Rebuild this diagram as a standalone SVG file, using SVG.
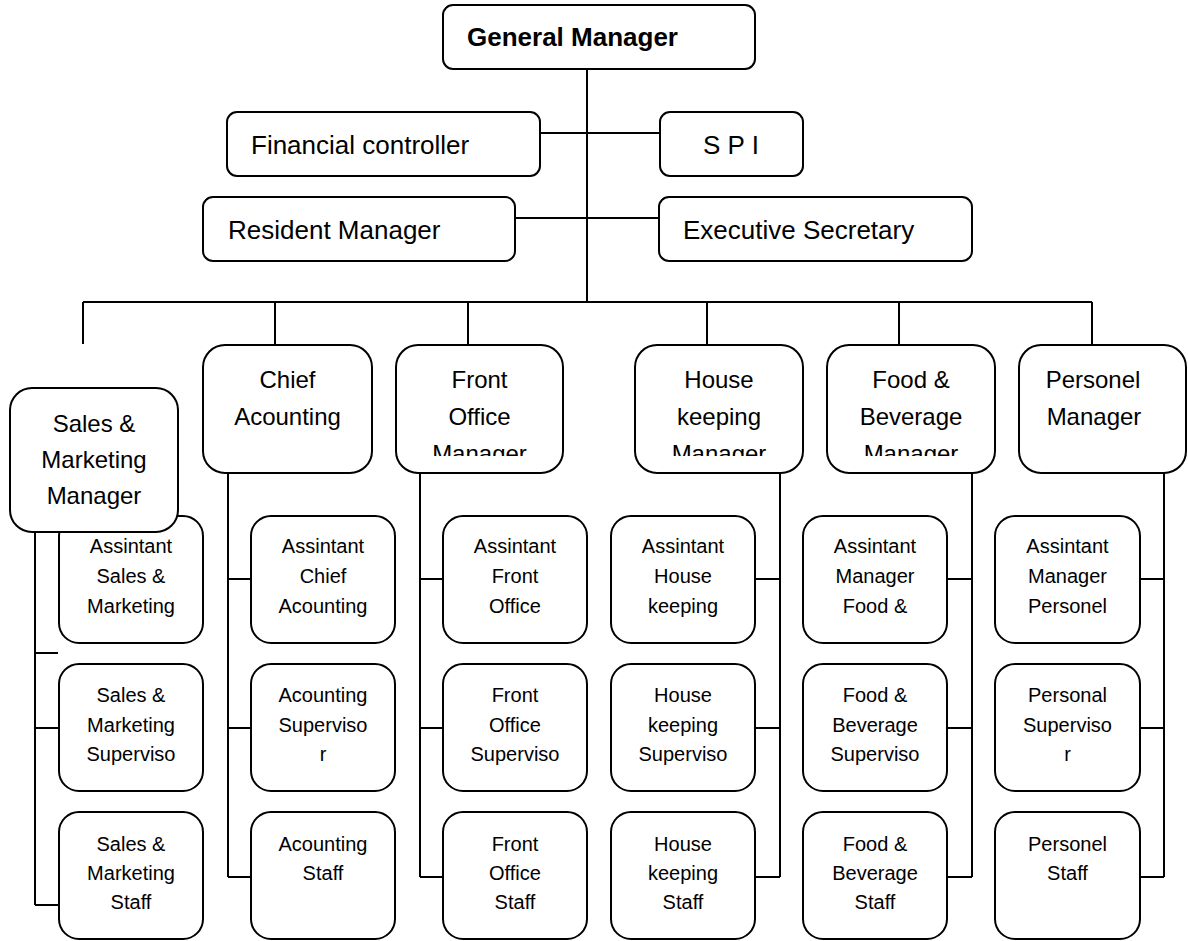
<svg xmlns="http://www.w3.org/2000/svg" width="1188" height="941" viewBox="0 0 1188 941">
<style>
.box{fill:#fff;stroke:#000;stroke-width:2}
.ln{stroke:#000;stroke-width:2;fill:none}
text{font-family:"Liberation Sans",Arial,sans-serif;fill:#000}
.top{font-size:26px}
.gm{font-size:26px;font-weight:bold}
.mgr{font-size:24px;text-anchor:middle}
.sm{font-size:20px;text-anchor:middle}
</style>
<defs>
<clipPath id="clipMgr" clipPathUnits="userSpaceOnUse"><rect x="0" y="340" width="1188" height="116"/></clipPath>
</defs>
<rect width="1188" height="941" fill="#fff"/>
<g id="connectors" class="ln">
<path d="M587,69V302"/>
<path d="M540,133H660"/>
<path d="M515,218H659"/>
<path d="M83,302H1092"/>
<path d="M83,302V344M275,302V345M468,302V345M707,302V345M899,302V345M1092,302V345"/>
<path d="M35,532V905M35,653H58M35,728H59M35,905H59"/>
<path d="M228,473V877M228,579H251M228,728H251M228,877H251"/>
<path d="M420,473V877M420,579H443M420,728H443M420,877H443"/>
<path d="M780,473V877M755,579H780M755,728H780M755,877H780"/>
<path d="M972,473V877M947,579H972M947,728H972M947,877H972"/>
<path d="M1164,473V877M1140,579H1164M1140,728H1164M1140,877H1164"/>
</g>
<g id="gm"><rect class="box" x="443" y="5" width="312" height="64" rx="10"/><text class="gm" x="467" y="46">General Manager</text></g>
<g id="fc"><rect class="box" x="227" y="112" width="313" height="64" rx="10"/><text class="top" x="251" y="154">Financial controller</text></g>
<g id="spi"><rect class="box" x="660" y="112" width="143" height="64" rx="10"/><text class="top" x="731" y="154" text-anchor="middle">S P I</text></g>
<g id="rm"><rect class="box" x="203" y="197" width="312" height="64" rx="10"/><text class="top" x="228" y="239">Resident Manager</text></g>
<g id="es"><rect class="box" x="659" y="197" width="313" height="64" rx="10"/><text class="top" x="683" y="239">Executive Secretary</text></g>

<g id="sm-asst"><rect class="box" x="59" y="516" width="144" height="127" rx="20"/><text class="sm" x="131" y="553">Assintant</text><text class="sm" x="131" y="583">Sales &amp;</text><text class="sm" x="131" y="613">Marketing</text></g>
<g id="sm-mgr"><rect class="box" x="10" y="388" width="168" height="144" rx="22"/><text class="mgr" x="94" y="432">Sales &amp;</text><text class="mgr" x="94" y="468">Marketing</text><text class="mgr" x="94" y="504">Manager</text></g>
<g id="sm-sup"><rect class="box" x="59" y="664" width="144" height="127" rx="20"/><text class="sm" x="131" y="702">Sales &amp;</text><text class="sm" x="131" y="732">Marketing</text><text class="sm" x="131" y="761">Superviso</text></g>
<g id="sm-staff"><rect class="box" x="59" y="812" width="144" height="127" rx="20"/><text class="sm" x="131" y="851">Sales &amp;</text><text class="sm" x="131" y="880">Marketing</text><text class="sm" x="131" y="909">Staff</text></g>

<g id="ca-mgr"><rect class="box" x="203" y="345" width="169" height="128" rx="22"/><text class="mgr" x="287.5" y="388">Chief</text><text class="mgr" x="287.5" y="425">Acounting</text></g>
<g id="ca-asst"><rect class="box" x="251" y="516" width="144" height="127" rx="20"/><text class="sm" x="323" y="553">Assintant</text><text class="sm" x="323" y="583">Chief</text><text class="sm" x="323" y="613">Acounting</text></g>
<g id="ca-sup"><rect class="box" x="251" y="664" width="144" height="127" rx="20"/><text class="sm" x="323" y="702">Acounting</text><text class="sm" x="323" y="732">Superviso</text><text class="sm" x="323" y="761">r</text></g>
<g id="ca-staff"><rect class="box" x="251" y="812" width="144" height="127" rx="20"/><text class="sm" x="323" y="851">Acounting</text><text class="sm" x="323" y="880">Staff</text></g>

<g id="fo-mgr"><rect class="box" x="396" y="345" width="167" height="128" rx="22"/><g clip-path="url(#clipMgr)"><text class="mgr" x="479.5" y="388">Front</text><text class="mgr" x="479.5" y="425">Office</text><text class="mgr" x="479.5" y="462">Manager</text></g></g>
<g id="fo-asst"><rect class="box" x="443" y="516" width="144" height="127" rx="20"/><text class="sm" x="515" y="553">Assintant</text><text class="sm" x="515" y="583">Front</text><text class="sm" x="515" y="613">Office</text></g>
<g id="fo-sup"><rect class="box" x="443" y="664" width="144" height="127" rx="20"/><text class="sm" x="515" y="702">Front</text><text class="sm" x="515" y="732">Office</text><text class="sm" x="515" y="761">Superviso</text></g>
<g id="fo-staff"><rect class="box" x="443" y="812" width="144" height="127" rx="20"/><text class="sm" x="515" y="851">Front</text><text class="sm" x="515" y="880">Office</text><text class="sm" x="515" y="909">Staff</text></g>

<g id="hk-mgr"><rect class="box" x="635" y="345" width="168" height="128" rx="22"/><g clip-path="url(#clipMgr)"><text class="mgr" x="719" y="388">House</text><text class="mgr" x="719" y="425">keeping</text><text class="mgr" x="719" y="462">Manager</text></g></g>
<g id="hk-asst"><rect class="box" x="611" y="516" width="144" height="127" rx="20"/><text class="sm" x="683" y="553">Assintant</text><text class="sm" x="683" y="583">House</text><text class="sm" x="683" y="613">keeping</text></g>
<g id="hk-sup"><rect class="box" x="611" y="664" width="144" height="127" rx="20"/><text class="sm" x="683" y="702">House</text><text class="sm" x="683" y="732">keeping</text><text class="sm" x="683" y="761">Superviso</text></g>
<g id="hk-staff"><rect class="box" x="611" y="812" width="144" height="127" rx="20"/><text class="sm" x="683" y="851">House</text><text class="sm" x="683" y="880">keeping</text><text class="sm" x="683" y="909">Staff</text></g>

<g id="fb-mgr"><rect class="box" x="827" y="345" width="168" height="128" rx="22"/><g clip-path="url(#clipMgr)"><text class="mgr" x="911" y="388">Food &amp;</text><text class="mgr" x="911" y="425">Beverage</text><text class="mgr" x="911" y="462">Manager</text></g></g>
<g id="fb-asst"><rect class="box" x="803" y="516" width="144" height="127" rx="20"/><text class="sm" x="875" y="553">Assintant</text><text class="sm" x="875" y="583">Manager</text><text class="sm" x="875" y="613">Food &amp;</text></g>
<g id="fb-sup"><rect class="box" x="803" y="664" width="144" height="127" rx="20"/><text class="sm" x="875" y="702">Food &amp;</text><text class="sm" x="875" y="732">Beverage</text><text class="sm" x="875" y="761">Superviso</text></g>
<g id="fb-staff"><rect class="box" x="803" y="812" width="144" height="127" rx="20"/><text class="sm" x="875" y="851">Food &amp;</text><text class="sm" x="875" y="880">Beverage</text><text class="sm" x="875" y="909">Staff</text></g>

<g id="pm-mgr"><rect class="box" x="1019" y="345" width="167" height="128" rx="22"/><text class="mgr" x="1093" y="388">Personel</text><text class="mgr" x="1094" y="425">Manager</text></g>
<g id="pm-asst"><rect class="box" x="995" y="516" width="145" height="127" rx="20"/><text class="sm" x="1067.5" y="553">Assintant</text><text class="sm" x="1067.5" y="583">Manager</text><text class="sm" x="1067.5" y="613">Personel</text></g>
<g id="pm-sup"><rect class="box" x="995" y="664" width="145" height="127" rx="20"/><text class="sm" x="1067.5" y="702">Personal</text><text class="sm" x="1067.5" y="732">Superviso</text><text class="sm" x="1067.5" y="761">r</text></g>
<g id="pm-staff"><rect class="box" x="995" y="812" width="145" height="127" rx="20"/><text class="sm" x="1067.5" y="851">Personel</text><text class="sm" x="1067.5" y="880">Staff</text></g>
</svg>
